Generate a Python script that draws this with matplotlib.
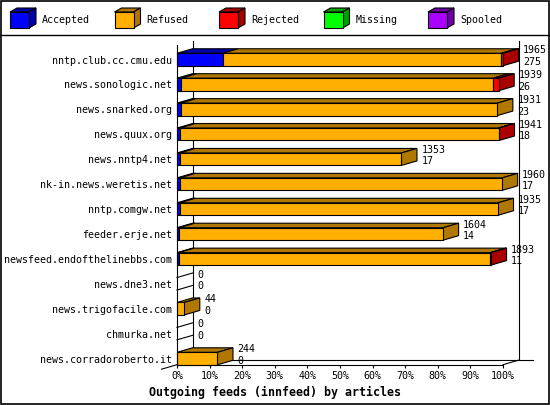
import matplotlib
matplotlib.use("Agg")
import matplotlib.pyplot as plt
from matplotlib.patches import Polygon, Rectangle
import numpy as np

# ---------------- data ----------------
hosts = ["nntp.club.cc.cmu.edu", "news.sonologic.net", "news.snarked.org",
         "news.quux.org", "news.nntp4.net", "nk-in.news.weretis.net",
         "nntp.comgw.net", "feeder.erje.net", "newsfeed.endofthelinebbs.com",
         "news.dne3.net", "news.trigofacile.com", "chmurka.net",
         "news.corradoroberto.it"]
offered = [1965, 1939, 1931, 1941, 1353, 1960, 1935, 1604, 1893, 0, 44, 0, 244]
accepted = [275, 26, 23, 18, 17, 17, 17, 14, 11, 0, 0, 0, 0]
rejected = [10, 34, 0, 3, 0, 0, 0, 0, 4, 0, 0, 0, 0]
legend_names = ["Accepted", "Refused", "Rejected", "Missing", "Spooled"]
xticks = [0, 10, 20, 30, 40, 50, 60, 70, 80, 90, 100]
title = "Outgoing feeds (innfeed) by articles"

front_cols = ["#0000FF", "#FFAF00", "#FF0000", "#00FF00", "#AA00FF"]
dark_cols = ["#0000AA", "#B07800", "#AA0000", "#00A000", "#7000A8"]

MONO = "DejaVu Sans Mono"
FS = 7.2

offered = np.array(offered, float)
accepted = np.array(accepted, float)
rejected = np.array(rejected, float)
refused = offered - accepted - rejected
vmax = offered.max()
segs = [accepted, refused, rejected]

W, Hpx = 550, 405
fig = plt.figure(figsize=(W / 100, Hpx / 100), dpi=100)

# overlay (frame + legend) in pixel coordinates
ov = fig.add_axes([0, 0, 1, 1])
ov.set_xlim(0, W)
ov.set_ylim(Hpx, 0)
ov.axis("off")
ov.add_patch(Rectangle((0.5, 0.5), W - 1.5, Hpx - 1.5, fill=False, ec="black", lw=1.2))
ov.plot([0, W], [35, 35], color="black", lw=1.0)
for k, name in enumerate(legend_names):
    x0 = 10 + k * 104.5
    y0, bw, bh, ddx, ddy = 12, 19, 16, 7, 4
    ov.add_patch(Polygon([(x0, y0), (x0 + bw, y0), (x0 + bw + ddx, y0 - ddy), (x0 + ddx, y0 - ddy)],
                         closed=True, fc=dark_cols[k], ec="black", lw=0.8))
    ov.add_patch(Polygon([(x0 + bw, y0), (x0 + bw + ddx, y0 - ddy), (x0 + bw + ddx, y0 + bh - ddy), (x0 + bw, y0 + bh)],
                         closed=True, fc=dark_cols[k], ec="black", lw=0.8))
    ov.add_patch(Rectangle((x0, y0), bw, bh, fc=front_cols[k], ec="black", lw=0.8))
    ov.text(x0 + 32, 20, name, family=MONO, fontsize=FS, va="center", ha="left")

# main axes
px_left, px_right = 177, 503
px_top, px_bottom = 45, 364.7
ax = fig.add_axes([px_left / W, 1 - px_bottom / Hpx, (px_right - px_left) / W, (px_bottom - px_top) / Hpx])
ax.patch.set_alpha(0)
n = len(hosts)
y0c, ystep = 59.5, 24.92
ax.set_xlim(0, 100)
ax.set_ylim((px_bottom - y0c) / ystep, (px_top - y0c) / ystep)
pxx = (px_right - px_left) / 100.0
DX = 15.5 / pxx
DY = 4.5 / ystep
HH = 0.25
ybot, ytop = ax.get_ylim()

# back wall and floor
kw = dict(color="black", lw=0.8, clip_on=False, zorder=1)
ax.plot([DX, DX], [ytop - DY, ybot - DY], **kw)
ax.plot([100 + DX, 100 + DX], [ytop - DY, ybot - DY], **kw)
ax.plot([DX, 100 + DX + 14 / pxx], [ybot - DY, ybot - DY], **kw)
ax.plot([100, 100 + DX], [ybot, ybot - DY], **kw)
ax.plot([-DX, DX], [ybot + DY, ybot - DY], **kw)

for i in range(n):
    vals = [s[i] / vmax * 100 for s in segs]
    left = 0.0
    last = 1
    for j, v in enumerate(vals):
        if v <= 0:
            continue
        ax.barh(i, v, left=left, height=2 * HH, color=front_cols[j], edgecolor="black",
                linewidth=0.8, zorder=3, clip_on=False)
        ax.add_patch(Polygon([(left, i - HH), (left + v, i - HH), (left + v + DX, i - HH - DY),
                              (left + DX, i - HH - DY)], closed=True, fc=dark_cols[j], ec="black",
                             lw=0.8, zorder=2, clip_on=False))
        left += v
        last = j
    r = left
    if r > 0:
        ax.add_patch(Polygon([(r, i - HH), (r + DX, i - HH - DY), (r + DX, i + HH - DY), (r, i + HH)],
                             closed=True, fc=dark_cols[last], ec="black", lw=0.8, zorder=2, clip_on=False))
    else:
        for yy in (i - HH, i + HH):
            ax.plot([0, DX], [yy, yy - DY], color="black", lw=0.8, zorder=2, clip_on=False)
    tx = r + DX + 4.5 / pxx
    ax.text(tx, i - 9.2 / ystep, f"{int(offered[i])}", family=MONO, fontsize=FS,
            va="center", ha="left", clip_on=False, zorder=4)
    ax.text(tx, i + 2.2 / ystep, f"{int(accepted[i])}", family=MONO, fontsize=FS,
            va="center", ha="left", clip_on=False, zorder=4)

ax.set_yticks(range(n))
ax.set_yticklabels(hosts, family=MONO, fontsize=FS)
ax.tick_params(axis="y", length=0, pad=3.6)
ax.set_xticks(xticks)
ax.set_xticklabels([f"{t}%" for t in xticks], family=MONO, fontsize=FS)
ax.tick_params(axis="x", length=2.5, width=0.8, pad=2.0, direction="out")
for s in ["top", "right"]:
    ax.spines[s].set_visible(False)
for s in ["left", "bottom"]:
    ax.spines[s].set_linewidth(0.8)
    ax.spines[s].set_zorder(5)

fig.text(0.5, 1 - 392 / Hpx, title, family=MONO, fontsize=8.4, fontweight="bold",
         ha="center", va="center")

fig.savefig("out.png", dpi=100)
